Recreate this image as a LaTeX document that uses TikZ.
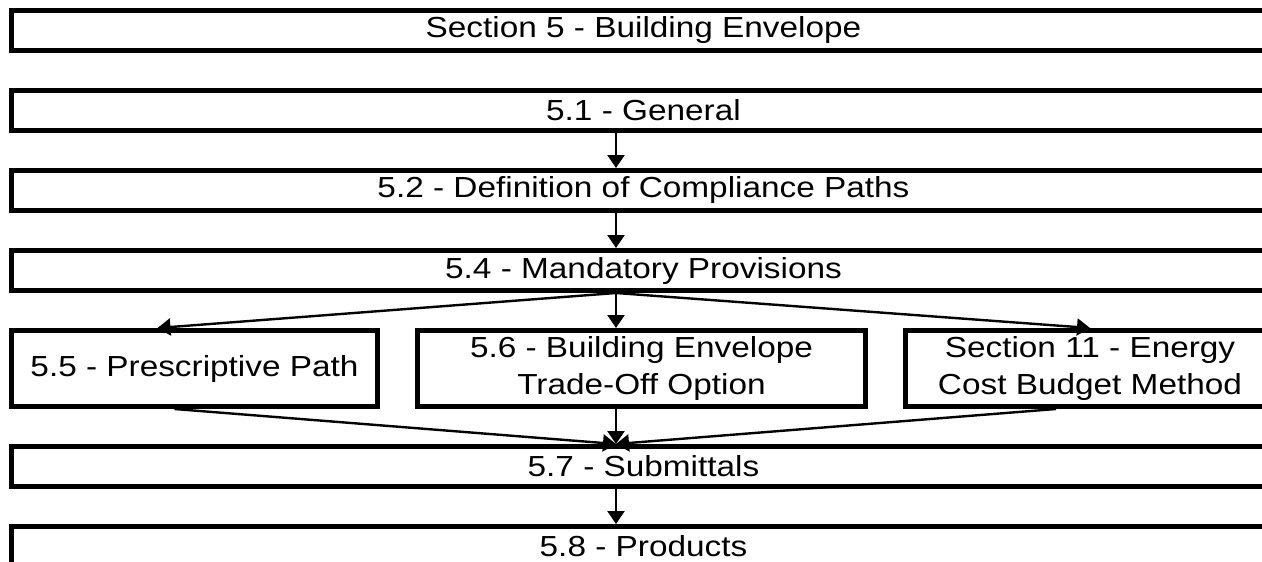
\documentclass[tikz,border=0pt]{standalone}
\usepackage{fontspec}
\setmainfont{Liberation Sans}[FakeStretch=1.15]
\usetikzlibrary{arrows.meta, positioning}

\begin{document}
\begin{tikzpicture}[
    x=1pt, y=-1pt,
    node distance=35pt and 35pt,
    sectbox/.style={rectangle, draw, line width=5pt, minimum width=1264pt, minimum height=40pt, inner sep=0pt, align=center, font=\fontsize{29}{37}\selectfont},
    pathbox/.style={rectangle, draw, line width=5pt, minimum height=76pt, inner sep=0pt, align=center, font=\fontsize{29}{37}\selectfont},
    arr/.style={-{Triangle[length=13pt, width=17pt]}, line width=2.4pt},
]
    \path[use as bounding box, fill=white] (0,0) rectangle (1262,562);
    \clip (0,0) rectangle (1262,562);
    \coordinate (axis) at (616,0);

    \node[sectbox, anchor=north west] (sec5) at (9,8) {Section 5 - Building Envelope};
    \node[sectbox, below=of sec5] (b51) {5.1 - General};
    \node[sectbox, below=of b51] (b52) {5.2 - Definition of Compliance Paths};
    \node[sectbox, below=of b52] (b54) {5.4 - Mandatory Provisions};
    \node[pathbox, minimum width=366pt, below right=35pt and 0pt of b54.south west] (b55) {5.5 - Prescriptive Path};
    \node[pathbox, minimum width=448pt, right=of b55] (b56) {5.6 - Building Envelope\\Trade-Off Option};
    \node[pathbox, minimum width=369pt, right=of b56] (b11) {Section 11 - Energy\\Cost Budget Method};
    \node[sectbox, below right=35pt and 0pt of b55.south west] (b57) {5.7 - Submittals};
    \node[sectbox, below=of b57] (b58) {5.8 - Products};

    \draw[arr] (b51.south -| axis) -- (b52.north -| axis);
    \draw[arr] (b52.south -| axis) -- (b54.north -| axis);
    \draw[arr] (b54.south -| axis) -- ([xshift=-37pt]b55.north);
    \draw[arr] (b54.south -| axis) -- (b56.north -| axis);
    \draw[arr] (b54.south -| axis) -- (b11.north);
    \draw[arr] ([xshift=-20pt]b55.south) -- (b57.north -| axis);
    \draw[arr] (b56.south -| axis) -- (b57.north -| axis);
    \draw[arr] ([xshift=-34pt]b11.south) -- (b57.north -| axis);
    \draw[arr] (b57.south -| axis) -- (b58.north -| axis);
\end{tikzpicture}
\end{document}
